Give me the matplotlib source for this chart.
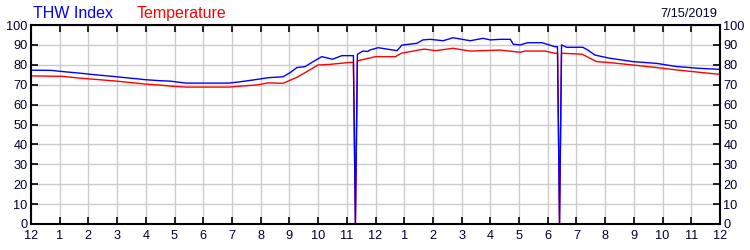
import numpy as np
import matplotlib
matplotlib.use('Agg')
import matplotlib.pyplot as plt

# =============================================================================
# Data (hours since midnight, deg F)
# =============================================================================
thw_hours = [0, 0.7, 1.1, 1.7, 2.3, 2.9, 3.45, 4.0, 4.5, 4.85, 5.4, 6.9, 7.3,
             7.9, 8.25, 8.78, 9.02, 9.26, 9.55, 9.83, 10.13, 10.5, 10.83,
             11.18, 11.23, 11.30, 11.37, 11.56, 11.73, 11.8, 12.09, 12.75,
             12.92, 13.44, 13.65, 13.9, 14.36, 14.7, 15.3, 15.75, 16.0,
             16.34, 16.7, 16.8, 17.04, 17.3, 17.8, 18.25, 18.34, 18.41,
             18.48, 18.66, 19.22, 19.4, 19.64, 20.16, 20.97, 21.8, 22.5,
             23.3, 24.0]
thw_index = [77.3, 77.2, 76.6, 75.8, 74.9, 74.1, 73.3, 72.5, 72.0, 71.8,
             70.8, 70.8, 71.5, 72.7, 73.5, 74.0, 76.0, 78.6, 79.1, 81.6,
             84.1, 82.8, 84.6, 84.6, 84.6, 0.0, 85.3, 86.9, 86.7, 87.4, 88.6,
             87.1, 89.9, 90.8, 92.5, 92.8, 92.1, 93.6, 92.1, 93.3, 92.5,
             92.8, 92.8, 90.3, 90.0, 91.1, 91.1, 89.1, 89.1, 0.0, 90.0, 88.8,
             88.8, 87.4, 84.9, 83.3, 81.6, 80.7, 79.1, 78.2, 77.7]

temp_hours = [0, 1.1, 1.7, 2.3, 2.9, 3.45, 4.0, 4.5, 4.85, 5.4, 6.9, 7.3,
              7.9, 8.25, 8.78, 9.26, 9.6, 10.0, 10.4, 11.1, 11.23, 11.30,
              11.37, 11.4, 12.0, 12.7, 12.9, 13.5, 13.7, 14.1, 14.7, 15.3,
              16.34, 17.04, 17.2, 17.9, 18.25, 18.34, 18.41, 18.48, 18.5,
              19.2, 19.7, 20.16, 20.97, 21.8, 22.5, 23.3, 24.0]
temperature = [74.4, 74.2, 73.3, 72.6, 71.9, 71.1, 70.3, 69.8, 69.3, 68.8,
               68.8, 69.3, 69.9, 70.9, 70.7, 73.7, 76.5, 79.9, 80.2, 81.2,
               81.2, 0.0, 82.0, 82.1, 84.1, 84.1, 85.8, 87.4, 87.9, 87.1,
               88.3, 86.9, 87.4, 86.3, 86.9, 86.9, 85.8, 85.8, 0.0, 85.8,
               85.8, 85.3, 81.6, 81.1, 79.9, 78.6, 77.4, 76.2, 75.2]

hour_labels = ['12'] + [str(h) for h in range(1, 12)] + ['12'] + \
              [str(h) for h in range(1, 12)] + ['12']
y_ticks = list(range(0, 101, 10))
date_text = '7/15/2019'

# =============================================================================
# Plot
# =============================================================================
plt.rcParams['font.family'] = ['Liberation Sans', 'DejaVu Sans']
label_color = '#000033'

fig = plt.figure(figsize=(7.5, 2.5), dpi=100)
ax = fig.add_axes([31 / 750, 1 - 224 / 250, 689 / 750, 199 / 250])

ax.plot(temp_hours, temperature, color='#ff0000', lw=1.0)
ax.plot(thw_hours, thw_index, color='#0000ff', lw=1.0)

ax.set_xlim(0, 24)
ax.set_ylim(0, 100)
ax.set_xticks(np.arange(0, 25))
ax.set_xticklabels(hour_labels)
ax.set_yticks(y_ticks)
ax.grid(True, color='#cccccc', lw=1.0)
ax.set_axisbelow(True)

ax.tick_params(axis='both', direction='in', length=5, width=1.2,
               labelsize=9.2, labelcolor=label_color, color='black',
               top=True, right=True, labelright=True, pad=2.5)
ax.tick_params(axis='x', pad=4)
for s in ax.spines.values():
    s.set_linewidth(1.5)

fig.text(33 / 750, 1 - 17.5 / 250, 'THW Index', color='#0000ff',
         fontsize=11.5, va='baseline', ha='left')
fig.text(137 / 750, 1 - 17.5 / 250, 'Temperature', color='#ff0000',
         fontsize=11.5, va='baseline', ha='left')
fig.text(717 / 750, 1 - 16.5 / 250, date_text, color=label_color,
         fontsize=9.2, va='baseline', ha='right')

fig.savefig('out.png', dpi=100)
